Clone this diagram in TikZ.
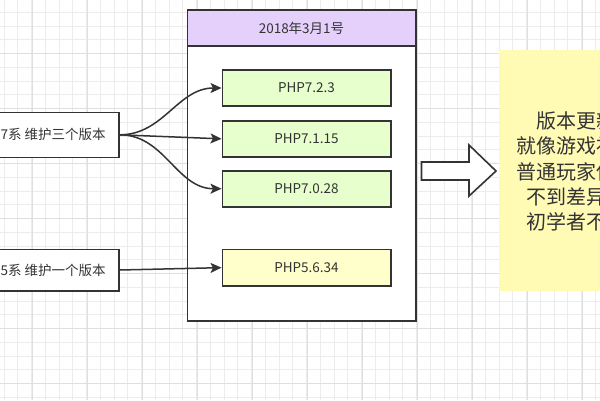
\documentclass[tikz,border=0pt]{standalone}
\usepackage{fontspec}
\setmainfont{Noto Sans CJK SC}
\usetikzlibrary{arrows.meta}
\definecolor{txt}{HTML}{333333}
\definecolor{edge}{HTML}{333333}
\definecolor{gridminor}{HTML}{ECECEC}
\definecolor{gridmajor}{HTML}{DFDFDF}
\definecolor{hdrfill}{HTML}{E4D0FA}
\definecolor{greenfill}{HTML}{E6FFCC}
\definecolor{yelfill}{HTML}{FFFFCC}
\definecolor{notefill}{HTML}{FFFAB4}
\tikzset{
  box/.style={draw=edge, line width=1.6pt, rectangle, inner sep=0pt, text=txt, font=\fontsize{13.5}{16}\selectfont},
  verbox/.style={box, minimum width=168.4pt, minimum height=36pt},
  conn/.style={draw=edge, line width=1.5pt, -{Stealth[length=11pt,width=10pt,inset=2.5pt]}},
  lbl/.style={anchor=west, inner sep=0pt, text=txt, font=\fontsize{13.5}{16}\selectfont},
  notetxt/.style={anchor=west, inner sep=0pt, text=txt, font=\fontsize{20}{24}\selectfont},
}
\begin{document}
\begin{tikzpicture}[x=1pt,y=-1pt]
\useasboundingbox (0,0) rectangle (600,400);
\clip (0,0) rectangle (600,400);
\fill[white] (0,0) rectangle (600,400);
% grid
\foreach \i in {0,...,43} \draw[gridminor, line width=0.8pt] ({4+13.75*\i},0) -- ++(0,400);
\foreach \j in {0,...,29} \draw[gridminor, line width=0.8pt] (0,{12.3+13.75*\j}) -- ++(600,0);
\foreach \i in {0,...,10} \draw[gridmajor, line width=0.8pt] ({32.3+55*\i},0) -- ++(0,400);
\foreach \j in {0,...,7} \draw[gridmajor, line width=0.8pt] (0,{53.3+55*\j}) -- ++(600,0);

% container
\node[box, fill=white, minimum width=228.4pt, minimum height=310.7pt] (cont) at (301.5,165.35) {};
\node[box, fill=hdrfill, minimum width=228.4pt, minimum height=35.7pt] (hdr) at (301.5,27.85) {2018年3月1号};

% version boxes
\node[verbox, fill=greenfill] (v72) at (306.5,88) {PHP7.2.3};
\node[verbox, fill=greenfill, minimum height=35.7pt] (v71) at (306.5,138.85) {PHP7.1.15};
\node[verbox, fill=greenfill] (v70) at (306.5,188.7) {PHP7.0.28};
\node[verbox, fill=yelfill, minimum height=36.7pt] (v56) at (306.5,267.65) {PHP5.6.34};

% left boxes
\node[box, fill=white, minimum width=159pt, minimum height=45pt] (l7) at (39.5,134.8) {};
\node[lbl] (l7t) at (0.5,134.8) {7系 维护三个版本};
\node[box, fill=white, minimum width=159pt, minimum height=41.4pt] (l5) at (39.5,270) {};
\node[lbl] (l5t) at (0.5,270) {5系 维护一个版本};

% connectors
\draw[conn] (l7.east) to[out=0,in=180] (v72.west);
\draw[conn] (l7.east) -- (v71.west);
\draw[conn] (l7.east) to[out=0,in=180] (v70.west);
\draw[conn] (l5.east) -- (v56.west);

% big block arrow
\draw[edge, line width=1.6pt, fill=white, line join=miter]
  (421.5,162) coordinate (ba1) -- (469,162) -- (469,145) -- (496,171) -- (469,196) -- (469,180) -- (421.5,180) -- cycle;

% note
\fill[notefill] (498.5,50) rectangle (640,290.5);
\node[notetxt] (n1) at (536.2,121) {版本更新};
\node[notetxt] (n2) at (516.2,146.3) {就像游戏补};
\node[notetxt] (n3) at (516.2,171.6) {普通玩家使};
\node[notetxt] (n4) at (526.2,196.9) {不到差异};
\node[notetxt] (n5) at (526.2,222.2) {初学者不};
\end{tikzpicture}
\end{document}
